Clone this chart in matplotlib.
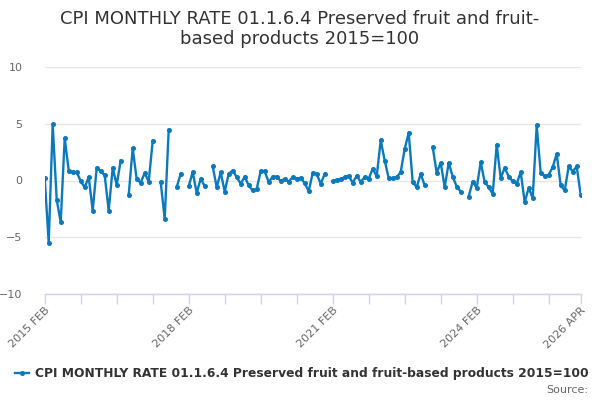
import numpy as np
import matplotlib.pyplot as plt

# ============================================================
# DATA (monthly rate, 2015 FEB .. 2026 APR, None = missing)
# ============================================================

START_YEAR, START_MONTH = 2015, 2
N_MONTHS = 135

rates_2015_2017 = [
    0.24, -5.47, 4.94, -1.7, -3.68, 3.74, 0.88, 0.74, 0.74, -0.06,
    -0.6, 0.3, -2.65, 1.12, 0.8, 0.45, -2.65, 1.12, -0.38, 1.76,
    None, -1.26, 2.85, 0.09, -0.18, 0.65, -0.09, 3.47, None, -0.15,
    -3.38, 4.47, None, -0.59, 0.59, None,
]
rates_2018_2020 = [
    -0.5, 0.74, -1.09, 0.15, -0.5, None, 1.24, -0.59, 0.71, -0.97,
    0.59, 0.88, 0.29, -0.29, 0.35, -0.44, -0.88, -0.74, 0.82, 0.82,
    -0.15, 0.35, 0.35, -0.06, 0.15, -0.09, 0.29, 0.15, 0.24, -0.24,
    -0.94, 0.65, 0.59, -0.29, 0.59, None,
]
rates_2021_2023 = [
    -0.06, 0.06, 0.12, 0.29, 0.41, -0.2, 0.41, -0.12, 0.29, 0.15,
    1.03, 0.38, 3.53, 1.76, 0.2, 0.2, 0.29, 0.74, 2.79, 4.2,
    -0.15, -0.59, 0.59, -0.44, None, 2.94, 0.68, 1.56, -0.59, 1.56,
    0.35, -0.53, -0.97, None, -1.41, -0.09,
]
rates_2024_2026 = [
    -0.65, 1.62, -0.15, -0.59, -1.18, 3.15, 0.2, 1.12, 0.35, -0.06,
    -0.29, 0.74, -1.91, -0.65, -1.56, 4.85, 0.65, 0.38, 0.5, 1.18,
    2.35, -0.44, -0.88, 1.24, 0.79, 1.24, -1.26,
]

rates = rates_2015_2017 + rates_2018_2020 + rates_2021_2023 + rates_2024_2026
values = np.array([np.nan if v is None else v for v in rates], dtype=float)

MONTHS = ['JAN', 'FEB', 'MAR', 'APR', 'MAY', 'JUN',
          'JUL', 'AUG', 'SEP', 'OCT', 'NOV', 'DEC']


def month_label(i):
    m = START_MONTH - 1 + i
    return f"{START_YEAR + m // 12} {MONTHS[m % 12]}"


TITLE = "CPI MONTHLY RATE 01.1.6.4 Preserved fruit and fruit-\nbased products 2015=100"
SERIES_NAME = "CPI MONTHLY RATE 01.1.6.4 Preserved fruit and fruit-based products 2015=100"

LINE_COLOR = '#0a7abf'
GRID_COLOR = '#e6e6e6'
AXIS_COLOR = '#ccd6eb'
TEXT_COLOR = '#666666'

# ============================================================
# PLOT
# ============================================================

fig = plt.figure(figsize=(6, 4), dpi=100)
ax = fig.add_axes([44.7 / 600, 1 - 294 / 400, (580.7 - 44.7) / 600, (294 - 67) / 400])

x = np.arange(N_MONTHS)
ax.plot(x, values[:N_MONTHS], color=LINE_COLOR, linewidth=1.7,
        marker='o', markersize=2.6, zorder=3)

ax.set_xlim(0, N_MONTHS - 1)
ax.set_ylim(-10, 10)
ax.set_yticks([-10, -5, 0, 5, 10])
ax.yaxis.grid(True, color=GRID_COLOR, linewidth=1)
ax.set_axisbelow(True)

for side in ['top', 'right', 'left']:
    ax.spines[side].set_visible(False)
ax.spines['bottom'].set_color(AXIS_COLOR)
ax.spines['bottom'].set_linewidth(1)

ax.tick_params(axis='y', length=0, pad=16, labelsize=8, labelcolor=TEXT_COLOR)

# tick marks every 9 months plus the last one, labels on a few
tick_pos = list(range(0, N_MONTHS, 9)) + [N_MONTHS - 1]
ax.set_xticks(tick_pos)
ax.set_xticklabels([''] * len(tick_pos))
ax.tick_params(axis='x', length=7, color=AXIS_COLOR, width=1)
for i in [0, 36, 72, 108, N_MONTHS - 1]:
    ax.text(i, -11.0, month_label(i), rotation=45, ha='right', va='top',
            fontsize=8, color=TEXT_COLOR, rotation_mode='anchor')

fig.text(0.5, 0.975, TITLE, ha='center', va='top', fontsize=13,
         color='#333333', linespacing=1.15)

# legend
leg_y = 1 - 373 / 400
fig.lines.append(plt.Line2D([15 / 600, 29 / 600], [leg_y] * 2,
                            color=LINE_COLOR, linewidth=1.7,
                            transform=fig.transFigure))
fig.lines.append(plt.Line2D([22 / 600], [leg_y], marker='o',
                            markersize=2.6, color=LINE_COLOR,
                            transform=fig.transFigure))
fig.text(35 / 600, leg_y, SERIES_NAME, ha='left', va='center',
         fontsize=8.8, fontweight='bold', color='#333333')

fig.text(588 / 600, 1 - 390 / 400, 'Source:', ha='right', va='center',
         fontsize=8, color=TEXT_COLOR)

fig.savefig('out.png', dpi=100)
plt.close(fig)
